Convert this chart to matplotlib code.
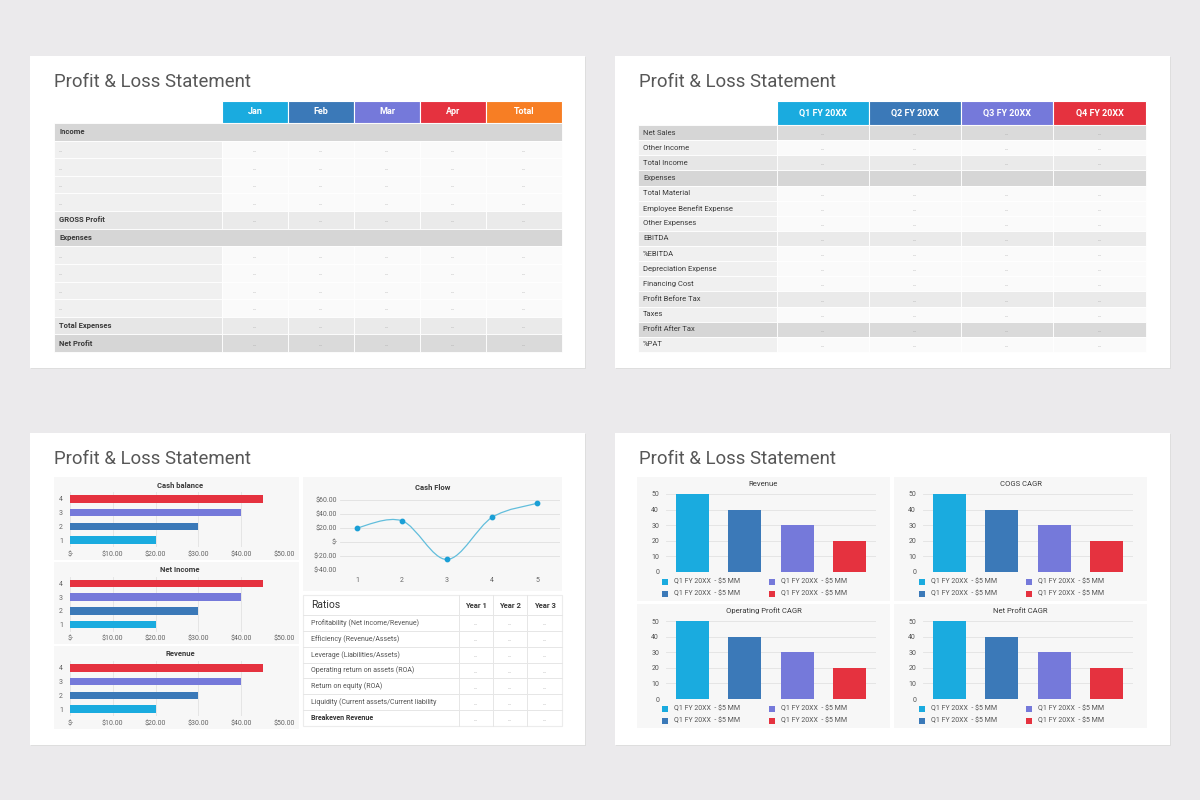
import matplotlib
matplotlib.use("Agg")
import matplotlib.pyplot as plt
from matplotlib.patches import Rectangle, PathPatch
from matplotlib.path import Path

plt.rcParams['font.family'] = ['Roboto', 'DejaVu Sans']

CYAN = '#1aabdf'
BLUE = '#3b79b8'
PURPLE = '#7579da'
RED = '#e5323f'
ORANGE = '#f77e24'

# ---- data ----
slide_title = 'Profit & Loss Statement'
placeholder = '...'

months = ['Jan', 'Feb', 'Mar', 'Apr', 'Total']
month_colors = [CYAN, BLUE, PURPLE, RED, ORANGE]
pl_rows = ['Income', '...', '...', '...', '...', 'GROSS Profit', 'Expenses',
           '...', '...', '...', '...', 'Total Expenses', 'Net Profit']
pl_kinds = ['section', 'item', 'item', 'item', 'item', 'sub', 'section',
            'item', 'item', 'item', 'item', 'sub', 'total']

quarters = ['Q1 FY 20XX', 'Q2 FY 20XX', 'Q3 FY 20XX', 'Q4 FY 20XX']
quarter_colors = [CYAN, BLUE, PURPLE, RED]
q_rows = ['Net Sales', 'Other Income', 'Total Income', 'Expenses', 'Total Material',
          'Employee Benefit Expense', 'Other Expenses', 'EBITDA', '%EBITDA',
          'Depreciation Expense', 'Financing Cost', 'Profit Before Tax', 'Taxes',
          'Profit After Tax', '%PAT']
q_kinds = ['total', 'item', 'sub', 'header', 'item', 'item', 'item', 'sub', 'item',
           'item', 'item', 'sub', 'item', 'total', 'item']

hbar_titles = ['Cash balance', 'Net Income', 'Revenue']
hbar_cats = [1, 2, 3, 4]
cash_balance = [20, 30, 40, 45]
net_income = [20, 30, 40, 45]
revenue_h = [20, 30, 40, 45]
hbar_values = [cash_balance, net_income, revenue_h]
hbar_ticks = [0, 10, 20, 30, 40, 50]
hbar_ticklabels = ['$-', '$10.00', '$20.00', '$30.00', '$40.00', '$50.00']

flow_x = [1, 2, 3, 4, 5]
flow_y = [20, 30, -25, 35, 55]
flow_ticks = [-40, -20, 0, 20, 40, 60]
flow_ticklabels = ['$-40.00', '$-20.00', '$-', '$20.00', '$40.00', '$60.00']

ratio_years = ['Year 1', 'Year 2', 'Year 3']
ratio_rows = ['Profitability (Net income/Revenue)', 'Efficiency (Revenue/Assets)',
              'Leverage (Liabilities/Assets)', 'Operating return on assets (ROA)',
              'Return on equity (ROA)', 'Liquidity (Current assets/Current liability',
              'Breakeven Revenue']

vbar_titles = ['Revenue', 'COGS CAGR', 'Operating Profit CAGR', 'Net Profit CAGR']
revenue_v = [50, 40, 30, 20]
cogs = [50, 40, 30, 20]
op_profit = [50, 40, 30, 20]
net_profit = [50, 40, 30, 20]
vbar_values = [revenue_v, cogs, op_profit, net_profit]
vbar_ticks = [0, 10, 20, 30, 40, 50]
vbar_legend = ['Q1 FY 20XX  - $5 MM'] * 4
bar_colors = [CYAN, BLUE, PURPLE, RED]

# ---- figure ----
fig = plt.figure(figsize=(12, 8), dpi=100)
fig.patch.set_facecolor('#ebeaec')
bg = fig.add_axes([0, 0, 1, 1])
bg.set_xlim(0, 1200)
bg.set_ylim(800, 0)
bg.axis('off')


def px_axes(x0, y0, x1, y1):
    return fig.add_axes([x0 / 1200, 1 - y1 / 800, (x1 - x0) / 1200, (y1 - y0) / 800])


for cx, cy in [(30, 56), (615, 56), (30, 433), (615, 433)]:
    bg.add_patch(Rectangle((cx + 1, cy + 1), 555, 312, fc='#dedede', ec='none'))
    bg.add_patch(Rectangle((cx, cy), 555, 312, fc='white', ec='none'))
    bg.text(cx + 24, cy + 26, slide_title, fontsize=13.4, color='#575757', va='center')

shade = {'section': ('#d6d6d6', '#d6d6d6'), 'header': ('#d6d6d6', '#d6d6d6'),
         'total': ('#d6d6d6', '#dadada'), 'sub': ('#e6e6e6', '#eaeaea'),
         'item': ('#f0f0f0', '#fafafa')}


def draw_table(x0, edges, y_head, head_h, row_h, heads, colors, rows, kinds,
               bold_kinds, head_size, label_size, full_section):
    for i, (h, c) in enumerate(zip(heads, colors)):
        bg.add_patch(Rectangle((edges[i], y_head), edges[i + 1] - edges[i], head_h,
                               fc=c, ec='white', lw=0.8))
        bg.text((edges[i] + edges[i + 1]) / 2, y_head + head_h / 2, h, color='white',
                fontsize=head_size, fontweight='bold', ha='center', va='center')
    y = y_head + head_h
    for r, k in zip(rows, kinds):
        lab_c, cell_c = shade[k]
        if k == 'section' and full_section:
            bg.add_patch(Rectangle((x0, y), edges[-1] - x0, row_h, fc=lab_c,
                                   ec='white', lw=0.6))
        else:
            bg.add_patch(Rectangle((x0, y), edges[0] - x0, row_h, fc=lab_c,
                                   ec='white', lw=0.6))
            for i in range(len(heads)):
                bg.add_patch(Rectangle((edges[i], y), edges[i + 1] - edges[i], row_h,
                                       fc=cell_c, ec='white', lw=0.6))
                if k not in ('section', 'header'):
                    bg.text((edges[i] + edges[i + 1]) / 2, y + row_h / 2 + 1, placeholder,
                            fontsize=4, color='#9a9a9a', ha='center', va='center')
        if r == placeholder:
            bg.text(x0 + 5, y + row_h / 2 + 1, r, fontsize=4, color='#9a9a9a', va='center')
        else:
            bg.text(x0 + 5, y + row_h / 2, r, fontsize=label_size, color='#3a3a3a',
                    va='center', fontweight='bold' if k in bold_kinds else 'normal')
        y += row_h


draw_table(54, [222, 288, 354, 420, 486, 562], 101, 22, (352 - 123) / 13,
           months, month_colors, pl_rows, pl_kinds, ('section', 'sub', 'total'),
           6.5, 5.5, True)
draw_table(638, [777, 869, 961, 1053, 1146], 101, 24, (352 - 125) / 15,
           quarters, quarter_colors, q_rows, q_kinds, (), 6.5, 5.5, False)

# ---- horizontal bar panels ----
for p, (t, vals) in enumerate(zip(hbar_titles, hbar_values)):
    top = 477 + p * 84.5
    bg.add_patch(Rectangle((54, top), 245, 82.5, fc='#f7f7f7', ec='none'))
    bg.text(180, top + 8, t, fontsize=5.5, fontweight='bold', color='#3a3a3a',
            ha='center', va='center')
    ax = px_axes(70, top + 15, 284, top + 70)
    ax.barh(hbar_cats, vals, height=0.56, color=bar_colors, zorder=2)
    ax.set_xlim(0, 50)
    ax.set_ylim(0.5, 4.5)
    ax.set_xticks(hbar_ticks)
    ax.set_xticklabels(hbar_ticklabels)
    ax.set_yticks(hbar_cats)
    ax.grid(axis='x', color='#e2e2e2', lw=0.6)
    ax.set_axisbelow(True)
    ax.tick_params(axis='x', length=0, labelsize=5, colors='#666666', pad=3)
    ax.tick_params(axis='y', length=0, labelsize=5, colors='#666666', pad=5)
    for s in ax.spines.values():
        s.set_visible(False)
    ax.patch.set_alpha(0)

# ---- cash flow line ----
bg.add_patch(Rectangle((303, 477), 259, 114, fc='#f7f7f7', ec='none'))
bg.text(433, 487, 'Cash Flow', fontsize=5.5, fontweight='bold', color='#3a3a3a',
        ha='center', va='center')
ax = px_axes(340, 497, 560, 570)
ax.set_xlim(0.62, 5.51)
ax.set_ylim(-40, 64)
pts = list(zip(flow_x, flow_y))
ext = [pts[0]] + pts + [pts[-1]]
verts = [pts[0]]
codes = [Path.MOVETO]
for i in range(1, len(ext) - 2):
    p0, p1, p2, p3 = ext[i - 1], ext[i], ext[i + 1], ext[i + 2]
    c1 = (p1[0] + (p2[0] - p0[0]) / 6, p1[1] + (p2[1] - p0[1]) / 6)
    c2 = (p2[0] - (p3[0] - p1[0]) / 6, p2[1] - (p3[1] - p1[1]) / 6)
    verts += [c1, c2, p2]
    codes += [Path.CURVE4] * 3
ax.add_patch(PathPatch(Path(verts, codes), fill=False, ec='#62bedc', lw=0.9, zorder=3))
ax.scatter(flow_x, flow_y, s=10, color='#1a9fd6', zorder=4)
ax.set_yticks(flow_ticks)
ax.set_yticklabels(flow_ticklabels)
ax.set_xticks(flow_x)
ax.grid(axis='y', color='#e0e0e0', lw=0.6)
ax.set_axisbelow(True)
ax.tick_params(axis='y', length=0, labelsize=5, colors='#666666', pad=2)
ax.tick_params(axis='x', length=0, labelsize=5, colors='#666666', pad=5)
for s in ax.spines.values():
    s.set_visible(False)
ax.patch.set_alpha(0)

# ---- ratios table ----
rx0, rx1, ry0, rh_head = 303, 562, 595, 20
rrow_h = (726 - 615) / len(ratio_rows)
col_edges = [459, 493, 527, 562]
bg.add_patch(Rectangle((rx0, ry0), rx1 - rx0, 131, fc='white', ec='#ececec', lw=0.8))
bg.text(rx0 + 8, ry0 + rh_head / 2, 'Ratios', fontsize=7.5, color='#333333', va='center')
for i, yl in enumerate(ratio_years):
    bg.text((col_edges[i] + col_edges[i + 1]) / 2, ry0 + rh_head / 2, yl, fontsize=5.5,
            fontweight='bold', color='#3a3a3a', ha='center', va='center')
for xe in col_edges[:-1]:
    bg.plot([xe, xe], [ry0, 726], color='#e6e6e6', lw=0.7)
for j, r in enumerate(ratio_rows):
    yt = ry0 + rh_head + j * rrow_h
    bg.plot([rx0, rx1], [yt, yt], color='#e6e6e6', lw=0.7)
    bold = r == 'Breakeven Revenue'
    bg.text(rx0 + 8, yt + rrow_h / 2, r, fontsize=5, color='#333333' if bold else '#555555',
            fontweight='bold' if bold else 'normal', va='center')
    for i in range(3):
        bg.text((col_edges[i] + col_edges[i + 1]) / 2, yt + rrow_h / 2 + 1, placeholder,
                fontsize=4, color='#9a9a9a', ha='center', va='center')

# ---- vertical bar panels ----
for p, (t, vals) in enumerate(zip(vbar_titles, vbar_values)):
    dx = (p % 2) * 257
    dy = (p // 2) * 127
    bg.add_patch(Rectangle((637 + dx, 477 + dy), 253, 124, fc='#f7f7f7', ec='none'))
    bg.text(763.5 + dx, 484 + dy, t, fontsize=5.5, color='#3a3a3a', ha='center', va='center')
    ax = px_axes(666 + dx, 494 + dy, 876 + dx, 572 + dy)
    ax.bar(range(len(vals)), vals, width=0.62, color=bar_colors, zorder=2)
    ax.set_xlim(-0.5, 3.5)
    ax.set_ylim(0, 50)
    ax.set_yticks(vbar_ticks)
    ax.set_xticks([])
    ax.grid(axis='y', color='#e2e2e2', lw=0.6)
    ax.set_axisbelow(True)
    ax.tick_params(axis='y', length=0, labelsize=5, colors='#555555', pad=5)
    for s in ax.spines.values():
        s.set_visible(False)
    ax.patch.set_alpha(0)
    for j, (lab, c) in enumerate(zip(vbar_legend, bar_colors)):
        lx = 662 + dx + (j // 2) * 107
        ly = 582 + dy + (j % 2) * 12
        bg.add_patch(Rectangle((lx, ly - 3), 6, 6, fc=c, ec='none'))
        bg.text(lx + 12, ly, lab, fontsize=5, color='#555555', va='center')

fig.savefig('out.png', dpi=100, facecolor=fig.get_facecolor())
